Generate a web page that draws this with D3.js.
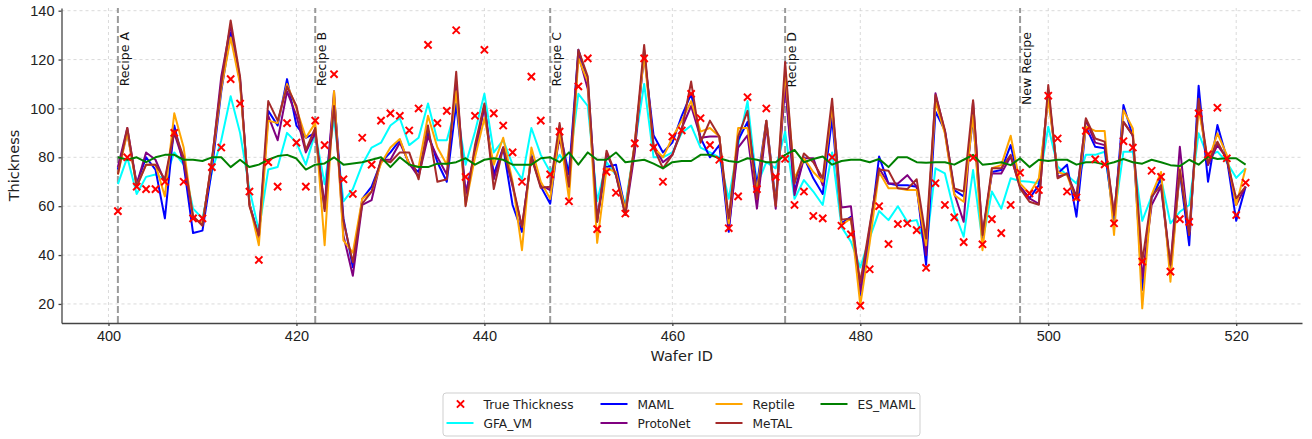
<!DOCTYPE html>
<html>
<head>
<meta charset="utf-8">
<script src="https://cdn.jsdelivr.net/npm/d3@7"></script>
<style>
  body { margin: 0; background: #fff; }
  svg { display: block; font-family: "DejaVu Sans", sans-serif; }
  .grid line { stroke: #d0d0d0; stroke-width: 0.8; stroke-dasharray: 3,3; }
  .axis path, .axis line { stroke: #444; stroke-width: 1.3; }
  .axis text { fill: #222; font-size: 14.5px; }
</style>
</head>
<body>
<script>
// wafer ids on the x axis
var wafers = d3.range(401, 522);

var trueThickness = [58,80,68,67,67,70,90,70,55,55,76,84,112,102,66,38,78,68,94,86,68,95,85,114,71,65,88,77,95,98,
  97,91,100,126,94,99,132,72,97,124,98,93,82,70,113,95,73,90.5,62,109,120.5,50.6,74,65.5,57,85.7,120.5,84,70,88.5,
  91,106,96,85,79,51,64,104.6,67,100,72,79.4,60.5,66,56,55,80,52,48.5,19.3,34.2,60,44.5,52.7,53,50.2,34.8,69.4,60.5,55.4,
  45.3,79.8,44.4,54.7,49,60.5,73.7,65.2,66.6,105.2,87.7,66,63.6,90.8,79.2,77.1,53,86.6,84,37.3,74.5,72,33.2,54.7,53.6,98,
  81.2,100.3,79.6,56.4,69.6];

var gfaVm = [69,80,65,72,73,71,82,77,59,55,74,87,105,90,67,50,75,76,90,86,77,90,69,96,62,67,77,84,86,93,
  96,85,88,102,87,87,101,77,90.5,106,82,87,77,71,92,81,74,81,75.5,106,101,62,78,72.7,60.5,85,110,80,80,82,
  90,93,84,82,80,63,85,103,68.6,78,75.5,90.5,63,70.7,66,60.5,82,51.5,45.5,35,47,58,54.3,60,53.6,54.3,42.7,75.5,73.4,57.7,
  47.5,74.8,45.4,66,59,71.4,70.3,70,69.3,92.5,76.2,72.7,69.3,81,81,82.3,55,82.3,82.3,54,64,71.4,53,57.7,60.5,89.8,
  80.2,82.3,78,71.6,75.5];

var maml = [75,90,69,80,75,55,93,77,49,50,75,107,131,111,61,47,99,93,112,93,88,90,59,105,55,35,63,68,78,82,
  87,77,74,90,78,70,102,65,82,101,73,84,60.5,49.5,81,68,61,91,73,124,111.6,55,76,77,58.4,85,122,89,82,86,
  97,106,88,80,85,49.5,87,94.5,68.6,95,62,111,66,80,71.4,65,96,53,55.7,23.5,48,80.3,69.3,68.6,68.6,68,36,98.7,91,66.6,
  64,96,47,74,74.8,85,68,63.2,68.6,105.5,73.4,77,55.7,92.5,84.3,83.7,53.6,101.4,88.5,25.7,63.2,71.4,33,74,44,109.3,
  70,93.2,79.6,54,68];

var protoNet = [76,92,69,82,79,70,90,78,55,53,78,113,134,112,61,47,97,87,107,97,82,90,60,107,48,31.5,60.5,62.5,79,79,
  86,77.5,72,88.5,80,73,111,65,81,101,71,84,68,51.5,80,68.6,66.6,88,68.6,122,108,53.6,81.6,72.7,56.4,82,124,85,78,81,
  92,101,88,88.5,88.5,51,84,89,59,93,59,110,64.6,79.6,79.6,68.6,101,59.5,60,25,51,75.5,69.3,69.3,72.7,68,40,106.2,90.5,65.2,
  53.6,102.8,48,73.4,73.4,80.3,68,63.2,61,107.5,72,73.4,64,95.3,86,85,56.4,94.5,89,30.5,60.5,68,34.5,84.3,48.2,102,
  76.8,85,79.6,60.5,68];

var reptile = [73,90,68,77,77,64,98,84,55,53,78,108,129,110,61,44,95,94,110,100,88,94,44,107,46,41,63,66,77.5,84,
  87.5,77,76,97,84,77,107,60.5,80,96,77,88,70,42,84,70,63,90.5,63,120.5,111,45,75.5,74,58.4,86,122,84,80,88,
  95,103,90.5,92,88.5,53,92,92,66,95,60.5,115,71.4,79.6,74,70,101,52.3,55,19.5,45,74,67.3,67.3,66.6,66.6,44,102.8,89.8,64.6,
  61.8,97.3,42,75.5,76.8,88.8,69.3,65.2,71.4,104,74,72.7,62.5,92.5,90.8,90.8,48.2,99.3,91.8,18.2,64.6,74,29.1,75.5,49.5,100,
  78.2,89.8,81,60.5,75.5];

var meTal = [73,92,68,77,77,71,91,80,56,52,79,110,136,113,60,48,103,95,109,101,83,92,58,101,54,37,61,66,79,78,
  82,82,71,93,70,71,115,60,85,102,67,84,69,51.5,80,67.5,68,94,68,124,113,53.6,82.7,72.7,56.4,85.7,126,84,75.5,81,
  91,111,86,95,88.5,55,88.5,99,63,95,60,119,69.3,81.6,78,71.4,104,54.5,55,28.8,52,75,74.5,67.3,67,71,46.8,105.5,91.2,67.3,
  66,103.4,48.2,75.5,75.5,81,67.3,61.8,60.6,109.6,71.4,73.4,63.2,96,87.7,86.4,56.4,94.5,89,37.3,63.9,68.6,36,74.8,48.2,104,
  77.5,86.4,79,63.2,68];

var esMaml = [80,79,80,78,80,81,81,79,79,78.5,80,80,76,79,76,77,79,80.5,81,79.5,75,77,77.5,80,77,77.5,78,79,80,76,
  80,77,76,76,77.4,77.4,78,79.6,77,79,79.6,79,77,77,77,79.6,80,78,82,77,82,79,79,82,78,78.5,79,77.4,75.5,78,
  78.5,78.5,81,81,79.6,78.5,78,79.6,79,78,78,81,83,78,79.3,80.3,77,78.5,79,79,78,79.3,76,80,80,78,77.8,78,78,77,
  79,81,77,77.4,78,76.8,79.6,76,79,78.5,79,79,77,78,78,77,78,79.3,78,77.4,79,78,76.8,76.4,79,77,
  80.3,79.3,79.6,79.6,77];

var seriesNames = ["GFA_VM", "MAML", "ProtoNet", "Reptile", "MeTAL", "ES_MAML"];
var seriesData = [gfaVm, maml, protoNet, reptile, meTal, esMaml];
var seriesColors = ["#00ffff", "#0000ff", "#800080", "#ffa500", "#a52a2a", "#008000"];

var recipeWafers = [401, 422, 447, 472, 497];
var recipeLabels = ["Recipe A", "Recipe B", "Recipe C", "Recipe D", "New Recipe"];

var xTicks = [400, 420, 440, 460, 480, 500, 520];
var yTicks = [20, 40, 60, 80, 100, 120, 140];

var W = 1312, H = 439;
var svg = d3.select("body").append("svg").attr("width", W).attr("height", H);

var x = d3.scaleLinear().domain([395, 527]).range([61.5, 1302]);
var y = d3.scaleLinear().domain([12.2, 141.1]).range([323, 8]);

// grid
var grid = svg.append("g").attr("class", "grid");
grid.selectAll("line.gx").data(xTicks).enter().append("line")
    .attr("x1", function (d) { return x(d); })
    .attr("x2", function (d) { return x(d); })
    .attr("y1", y.range()[0]).attr("y2", y.range()[1]);
grid.selectAll("line.gy").data(yTicks).enter().append("line")
    .attr("y1", function (d) { return y(d); })
    .attr("y2", function (d) { return y(d); })
    .attr("x1", x.range()[0]).attr("x2", x.range()[1]);

// recipe change markers
svg.selectAll("line.recipe").data(recipeWafers).enter().append("line")
    .attr("class", "recipe")
    .attr("x1", function (d) { return x(d); })
    .attr("x2", function (d) { return x(d); })
    .attr("y1", y.range()[0]).attr("y2", y.range()[1])
    .attr("stroke", "#9a9a9a")
    .attr("stroke-width", 2)
    .attr("stroke-dasharray", "7,3");

svg.selectAll("text.recipe").data(recipeWafers).enter().append("text")
    .attr("class", "recipe")
    .attr("transform", function (d) { return "translate(" + (x(d) + 11) + ",32) rotate(-90)"; })
    .attr("text-anchor", "end")
    .attr("font-size", "12.5px")
    .attr("fill", "#111")
    .text(function (d, i) { return recipeLabels[i]; });

// series lines
var line = d3.line()
    .x(function (d, i) { return x(wafers[i]); })
    .y(function (d) { return y(d); });

for (var s = 0; s < seriesData.length; s++) {
    svg.append("path")
        .datum(seriesData[s])
        .attr("fill", "none")
        .attr("stroke", seriesColors[s])
        .attr("stroke-width", 2)
        .attr("stroke-linejoin", "round")
        .attr("d", line);
}

// true thickness markers
var mk = 3.6;
function crossPath(cx, cy) {
    return "M" + (cx - mk) + "," + (cy - mk) + "L" + (cx + mk) + "," + (cy + mk) +
        "M" + (cx - mk) + "," + (cy + mk) + "L" + (cx + mk) + "," + (cy - mk);
}
svg.append("g").selectAll("path").data(trueThickness).enter().append("path")
    .attr("d", function (d, i) { return crossPath(x(wafers[i]), y(d)); })
    .attr("stroke", "#ff0000")
    .attr("stroke-width", 2);

// axes
var xAxis = d3.axisBottom(x).tickValues(xTicks).tickSize(3).tickPadding(5).tickSizeOuter(0);
var yAxis = d3.axisLeft(y).tickValues(yTicks).tickSize(3).tickPadding(4).tickSizeOuter(0);

svg.append("g").attr("class", "axis")
    .attr("transform", "translate(0," + y.range()[0] + ")")
    .call(xAxis);
svg.append("g").attr("class", "axis")
    .attr("transform", "translate(" + x.range()[0] + ",0)")
    .call(yAxis);

svg.append("text")
    .attr("x", (x.range()[0] + x.range()[1]) / 2)
    .attr("y", 361)
    .attr("text-anchor", "middle")
    .attr("font-size", "14.5px")
    .attr("fill", "#222")
    .text("Wafer ID");

svg.append("text")
    .attr("transform", "translate(19," + ((y.range()[0] + y.range()[1]) / 2) + ") rotate(-90)")
    .attr("text-anchor", "middle")
    .attr("font-size", "14.5px")
    .attr("fill", "#222")
    .text("Thickness");

// legend
var lg = svg.append("g").attr("transform", "translate(443,393)");
lg.append("rect")
    .attr("width", 477).attr("height", 43)
    .attr("rx", 3)
    .attr("fill", "#fff")
    .attr("stroke", "#cfcfcf");

var legendItems = [{ name: "True Thickness", marker: true }].concat(
    seriesNames.map(function (n, i) { return { name: n, color: seriesColors[i] }; }));
var colX = [1.5, 155.5, 270.5, 375.5];
var rowY = [11, 30];

legendItems.forEach(function (it, i) {
    var col = Math.floor(i / 2), row = i % 2;
    var g = lg.append("g").attr("transform", "translate(" + colX[col] + "," + rowY[row] + ")");
    if (it.marker) {
        g.append("path").attr("d", crossPath(16, 0)).attr("stroke", "#ff0000").attr("stroke-width", 2);
    } else {
        g.append("line").attr("x1", 2).attr("x2", 29).attr("y1", 0).attr("y2", 0)
            .attr("stroke", it.color).attr("stroke-width", 2);
    }
    g.append("text").attr("x", 39).attr("y", 4.5)
        .attr("font-size", "12.2px").attr("fill", "#222")
        .text(it.name);
});
</script>
</body>
</html>
